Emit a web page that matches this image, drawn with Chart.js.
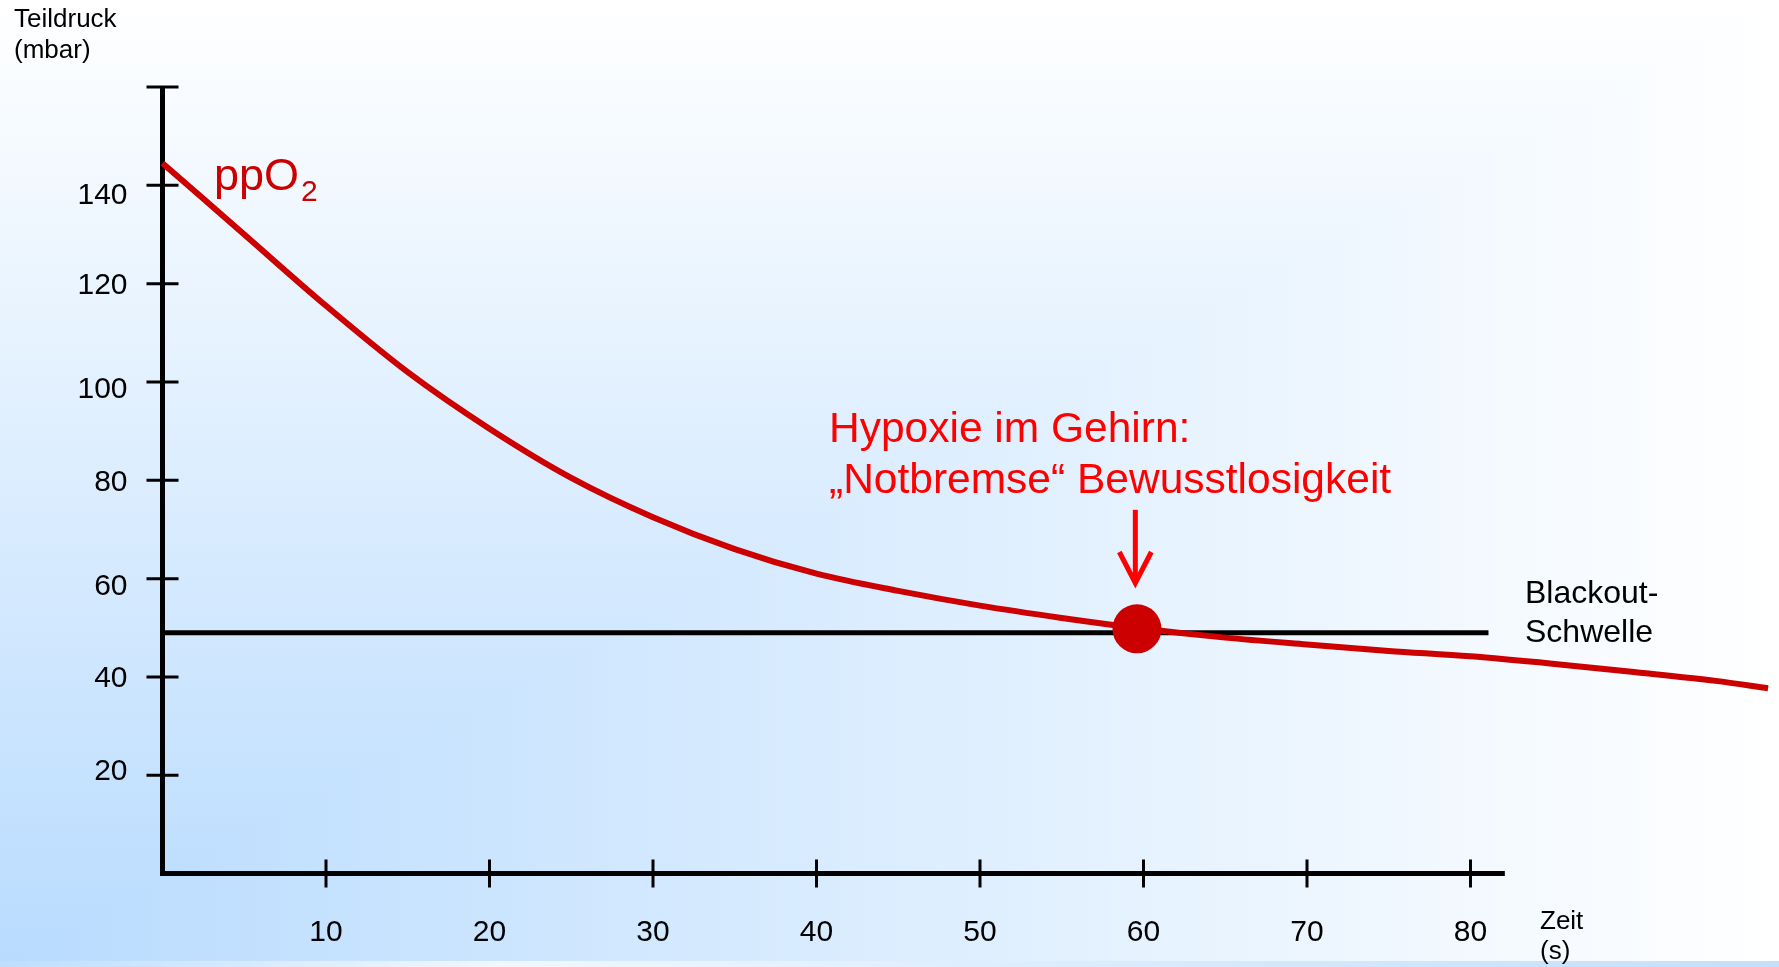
<!DOCTYPE html>
<html>
<head>
<meta charset="utf-8">
<script src="https://cdn.jsdelivr.net/npm/chart.js@4.4.1/dist/chart.umd.min.js"></script>
<style>
    html, body { margin: 0; padding: 0; overflow: hidden; }
    #wrap { width: 1779px; height: 967px; position: relative; }
</style>
</head>
<body>
<div id="wrap"><canvas id="chart"></canvas></div>
<script>
// ppO2 curve (time in s, partial pressure in mbar)
const timeS = [0, 5, 10, 15, 20, 25, 30, 35, 40, 45, 50, 55, 60, 65, 70, 75, 80, 85, 90, 95, 98.2];
const ppO2 = [144.5, 130, 115.5, 102, 90.5, 80.5, 72.5, 66, 61, 57.5, 54.5, 52, 49.8, 48, 46.6, 45.3, 44.2, 42.7, 41.0, 39.2, 37.7];

// blackout threshold line
const thresholdX = [0, 81.1];
const thresholdY = [49, 49];

// point where consciousness is lost
const blackoutX = [59.6];
const blackoutY = [49.8];

// axis ticks
const xTicks = [10, 20, 30, 40, 50, 60, 70, 80];
const yTicks = [20, 40, 60, 80, 100, 120, 140];
const xAxisEnd = 82.1;
const yAxisEnd = 160;

const FONT = '"Liberation Sans", Arial, sans-serif';

const toPoints = (xs, ys) => xs.map((x, i) => ({ x: x, y: ys[i] }));

// rectangular "from corner" gradient like the slide background
const backgroundPlugin = {
    id: 'slideBackground',
    beforeDraw(chart) {
        const ctx = chart.ctx;
        const W = chart.width, H = chart.height;
        const blue = '#b8dbfe', white = '#ffffff';
        ctx.save();
        const gv = ctx.createLinearGradient(0, H, 0, 0);
        gv.addColorStop(0, blue);
        gv.addColorStop(1, white);
        ctx.fillStyle = gv;
        ctx.fillRect(0, 0, W, H);

        ctx.beginPath();
        ctx.moveTo(0, H);
        ctx.lineTo(W, 0);
        ctx.lineTo(W, H);
        ctx.closePath();
        ctx.clip();
        const gh = ctx.createLinearGradient(0, 0, W, 0);
        gh.addColorStop(0, blue);
        gh.addColorStop(1, white);
        ctx.fillStyle = gh;
        ctx.fillRect(0, 0, W, H);
        ctx.restore();

        // thin strip along the bottom edge
        ctx.save();
        const gs = ctx.createLinearGradient(0, 0, W, 0);
        gs.addColorStop(0, '#bfdefc');
        gs.addColorStop(0.28, '#f0f7fe');
        gs.addColorStop(1, '#c2dffc');
        ctx.fillStyle = gs;
        ctx.fillRect(0, H - 6, W, 6);
        ctx.restore();
    }
};

// the slide's tick labels sit a little off their ticks
const yLabelShift = { 140: 8, 100: 6, 60: 6, 20: -6 };

// axes drawn by hand so they stop where the slide's axes stop
const axesPlugin = {
    id: 'slideAxes',
    beforeDatasetsDraw(chart) {
        const ctx = chart.ctx;
        const xs = chart.scales.x, ys = chart.scales.y;
        const x0 = xs.getPixelForValue(0);
        const y0 = ys.getPixelForValue(0);

        ctx.save();
        ctx.strokeStyle = '#000';
        ctx.lineWidth = 5;
        ctx.lineCap = 'butt';
        ctx.beginPath();
        ctx.moveTo(x0, ys.getPixelForValue(yAxisEnd));
        ctx.lineTo(x0, y0 + 2.5);
        ctx.moveTo(x0 - 2.5, y0);
        ctx.lineTo(xs.getPixelForValue(xAxisEnd), y0);
        ctx.stroke();

        ctx.lineWidth = 3;
        ctx.beginPath();
        yTicks.concat([yAxisEnd]).forEach(v => {
            const py = ys.getPixelForValue(v);
            ctx.moveTo(x0 - 16, py);
            ctx.lineTo(x0 + 16, py);
        });
        xTicks.forEach(v => {
            const px = xs.getPixelForValue(v);
            ctx.moveTo(px, y0 - 14);
            ctx.lineTo(px, y0 + 14);
        });
        ctx.stroke();

        ctx.fillStyle = '#000';
        ctx.font = '30px ' + FONT;
        ctx.textAlign = 'right';
        ctx.textBaseline = 'middle';
        yTicks.forEach(v => {
            ctx.fillText(String(v), x0 - 35, ys.getPixelForValue(v) + 2 + (yLabelShift[v] || 0));
        });
        ctx.textAlign = 'center';
        xTicks.forEach(v => {
            ctx.fillText(String(v), xs.getPixelForValue(v), y0 + 59);
        });
        ctx.restore();
    },
    afterDraw(chart) {
        const ctx = chart.ctx;
        const xs = chart.scales.x, ys = chart.scales.y;
        ctx.save();
        ctx.textAlign = 'left';
        ctx.textBaseline = 'alphabetic';

        // axis titles
        ctx.fillStyle = '#000';
        ctx.font = '26px ' + FONT;
        ctx.fillText('Teildruck', 14, 27);
        ctx.fillText('(mbar)', 14, 58);
        ctx.fillText('Zeit', 1540, 929);
        ctx.fillText('(s)', 1540, 959);

        ctx.font = '32px ' + FONT;
        ctx.fillText('Blackout-', 1525, 603);
        ctx.fillText('Schwelle', 1525, 642);

        // series label
        ctx.fillStyle = '#cc0000';
        ctx.font = '45px ' + FONT;
        ctx.fillText('ppO', 214, 190);
        const w = ctx.measureText('ppO').width;
        ctx.font = '30px ' + FONT;
        ctx.fillText('2', 214 + w + 2, 201);

        // annotation
        ctx.fillStyle = '#ff0000';
        ctx.font = '42.5px ' + FONT;
        ctx.fillText('Hypoxie im Gehirn:', 829, 442);
        ctx.fillText('\u201ENotbremse\u201C Bewusstlosigkeit', 829, 493);

        // arrow pointing at the blackout point
        const ax = xs.getPixelForValue(59.5);
        const aTop = ys.getPixelForValue(74);
        const aTip = ys.getPixelForValue(58.7);
        ctx.strokeStyle = '#ff0000';
        ctx.lineWidth = 5;
        ctx.lineJoin = 'miter';
        ctx.beginPath();
        ctx.moveTo(ax, aTop);
        ctx.lineTo(ax, aTip - 3);
        ctx.stroke();
        ctx.beginPath();
        ctx.moveTo(ax - 16, aTip - 33);
        ctx.lineTo(ax, aTip - 2);
        ctx.lineTo(ax + 16, aTip - 33);
        ctx.stroke();
        ctx.restore();
    }
};

new Chart(document.getElementById('chart'), {
    type: 'line',
    data: {
        datasets: [
            {
                label: 'ppO2',
                data: toPoints(timeS, ppO2),
                borderColor: '#cc0000',
                borderWidth: 6,
                cubicInterpolationMode: 'monotone',
                pointRadius: 0,
                fill: false,
                clip: false,
                order: 1
            },
            {
                label: 'Blackout-Schwelle',
                data: toPoints(thresholdX, thresholdY),
                borderColor: '#000000',
                borderWidth: 5,
                pointRadius: 0,
                fill: false,
                clip: false,
                order: 2
            },
            {
                label: 'Bewusstlosigkeit',
                data: toPoints(blackoutX, blackoutY),
                showLine: false,
                pointRadius: 24.5,
                pointBackgroundColor: '#cc0000',
                pointBorderWidth: 0,
                clip: false,
                order: 0
            }
        ]
    },
    options: {
        responsive: true,
        maintainAspectRatio: false,
        animation: false,
        events: [],
        // right padding equals the dot radius, which Chart.js reserves anyway
        layout: {
            padding: { left: 162.5, top: 87, right: 24.5, bottom: 93.4 }
        },
        plugins: {
            legend: { display: false },
            tooltip: { enabled: false }
        },
        scales: {
            x: { type: 'linear', display: false, min: 0, max: 97.37 },
            y: { type: 'linear', display: false, min: 0, max: 160 }
        }
    },
    plugins: [backgroundPlugin, axesPlugin]
});
</script>
</body>
</html>
